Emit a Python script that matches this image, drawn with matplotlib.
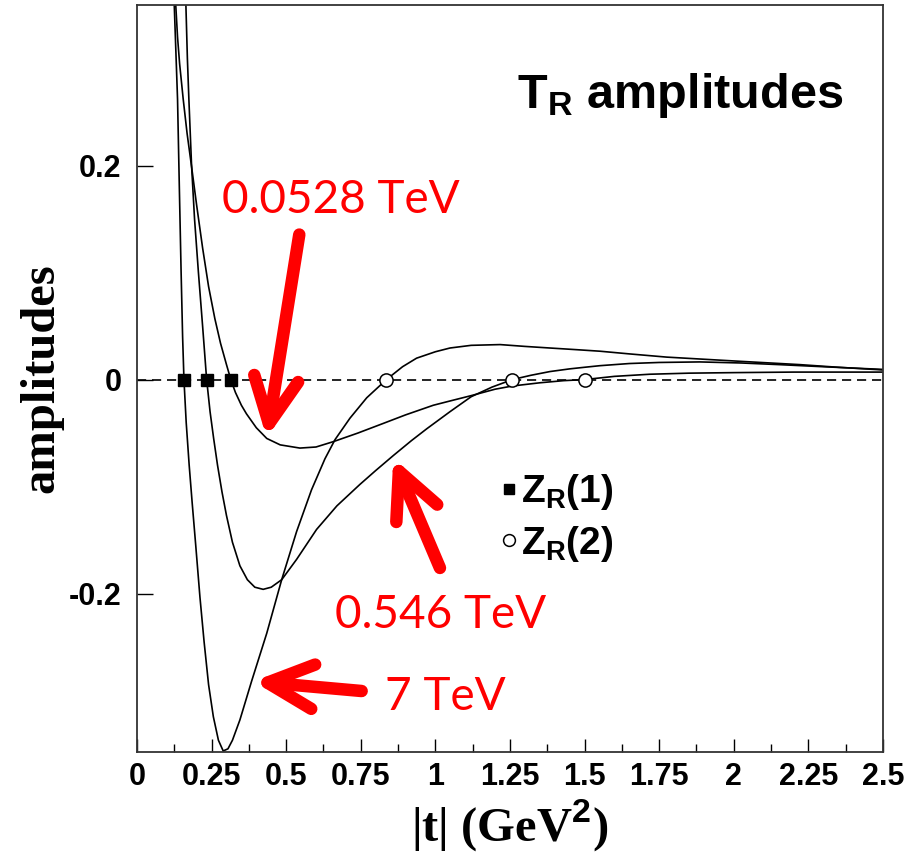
import matplotlib.pyplot as plt
from matplotlib.lines import Line2D

# curves: |t| (GeV^2) vs T_R amplitude
t_7tev = [0.125, 0.130, 0.136, 0.142, 0.148, 0.153, 0.1575, 0.165, 0.175, 0.185,
          0.197, 0.211, 0.225, 0.240, 0.256, 0.273, 0.289, 0.305, 0.320, 0.345,
          0.384, 0.435, 0.485, 0.535, 0.585, 0.630, 0.664, 0.714, 0.770, 0.836,
          0.890, 0.937, 1.000, 1.049, 1.120, 1.217, 1.300, 1.384, 1.470, 1.552,
          1.650, 1.775, 1.900, 2.026, 2.220, 2.350, 2.500]
a_7tev = [0.350, 0.310, 0.262, 0.180, 0.100, 0.040, 0.000, -0.040, -0.080, -0.115,
          -0.155, -0.203, -0.245, -0.285, -0.315, -0.337, -0.347, -0.345, -0.337, -0.318,
          -0.282, -0.237, -0.187, -0.142, -0.103, -0.074, -0.056, -0.036, -0.017, 0.000,
          0.012, 0.020, 0.026, 0.0295, 0.032, 0.0327, 0.031, 0.0295, 0.028, 0.0265,
          0.024, 0.021, 0.019, 0.017, 0.014, 0.0115, 0.009]

t_546 = [0.164, 0.169, 0.174, 0.183, 0.193, 0.206, 0.220, 0.2335, 0.245, 0.257,
         0.270, 0.285, 0.300, 0.320, 0.345, 0.370, 0.395, 0.423, 0.450, 0.485,
         0.535, 0.602, 0.670, 0.747, 0.800, 0.859, 0.920, 0.971, 1.049, 1.120,
         1.190, 1.258, 1.320, 1.384, 1.450, 1.500, 1.552, 1.650, 1.750, 1.886,
         2.026, 2.150, 2.300, 2.500]
a_546 = [0.350, 0.300, 0.262, 0.200, 0.150, 0.100, 0.050, 0.000, -0.030, -0.055,
         -0.080, -0.105, -0.127, -0.152, -0.174, -0.187, -0.194, -0.196, -0.194, -0.187,
         -0.168, -0.140, -0.118, -0.098, -0.085, -0.071, -0.057, -0.046, -0.030, -0.016,
         -0.007, 0.000, 0.004, 0.0075, 0.010, 0.0115, 0.013, 0.015, 0.016, 0.0165,
         0.0155, 0.014, 0.012, 0.0095]

t_0528 = [0.130, 0.136, 0.143, 0.155, 0.168, 0.183, 0.200, 0.220, 0.240, 0.261,
          0.280, 0.300, 0.3145, 0.330, 0.350, 0.367, 0.400, 0.435, 0.480, 0.546,
          0.600, 0.658, 0.740, 0.825, 0.900, 0.993, 1.049, 1.120, 1.200, 1.258,
          1.350, 1.430, 1.500, 1.600, 1.719, 1.850, 2.000, 2.200, 2.500]
a_0528 = [0.350, 0.320, 0.295, 0.262, 0.230, 0.199, 0.163, 0.123, 0.087, 0.057,
          0.034, 0.014, 0.000, -0.012, -0.024, -0.032, -0.045, -0.055, -0.061, -0.064,
          -0.063, -0.058, -0.050, -0.041, -0.033, -0.024, -0.020, -0.015, -0.009, -0.006,
          -0.003, -0.001, 0.000, 0.003, 0.005, 0.006, 0.0065, 0.007, 0.007]

# zeros of the amplitudes
z1_t = [0.1575, 0.2335, 0.3145]
z2_t = [0.836, 1.258, 1.500]

xticks = [0, 0.25, 0.5, 0.75, 1, 1.25, 1.5, 1.75, 2, 2.25, 2.5]
xtick_labels = ["0", "0.25", "0.5", "0.75", "1", "1.25", "1.5", "1.75", "2", "2.25", "2.5"]
yticks = [-0.2, 0, 0.2]
ytick_labels = ["-0.2", "0", "0.2"]

plt.rcParams['mathtext.fontset'] = 'custom'
plt.rcParams['mathtext.rm'] = 'Liberation Sans:bold'
plt.rcParams['mathtext.bf'] = 'Liberation Sans:bold'
plt.rcParams['mathtext.it'] = 'Liberation Sans:bold'

fig = plt.figure(figsize=(9.1, 8.63), dpi=100)
ax = fig.add_axes([0.1505, 0.1286, 0.8198, 0.8656])

ax.axhline(0, color='black', lw=1.2, ls=(0, (5.5, 3.5)), zorder=1)
ax.plot(t_7tev, a_7tev, color='black', lw=1.2)
ax.plot(t_546, a_546, color='black', lw=1.2)
ax.plot(t_0528, a_0528, color='black', lw=1.2)
ax.plot(z1_t, [0] * len(z1_t), ls='none', marker='s', ms=9, color='black')
ax.plot(z2_t, [0] * len(z2_t), ls='none', marker='o', ms=9.5, mfc='white',
        mec='black', mew=1.1)

ax.set_xlim(0, 2.5)
ax.set_ylim(-0.348, 0.350)
ax.set_xticks(xticks)
ax.set_xticklabels(xtick_labels)
ax.set_xticks([x + 0.125 for x in xticks[:-1]], minor=True)
ax.set_yticks(yticks)
ax.set_yticklabels(ytick_labels)
ax.tick_params(axis='x', which='major', direction='in', length=9.5, width=1, pad=7)
ax.tick_params(axis='x', which='minor', direction='in', length=5.5, width=1)
ax.tick_params(axis='y', which='major', direction='in', length=11.5, width=1, pad=11)
for lab in ax.get_xticklabels() + ax.get_yticklabels():
    lab.set_fontfamily(['Liberation Sans Narrow', 'Liberation Sans'])
    lab.set_fontweight('bold')
    lab.set_fontsize(22)
for sp in ax.spines.values():
    sp.set_linewidth(1.3)
    sp.set_color('#333333')

ax.set_xlabel(r"|t| (GeV$^{\mathbf{2}}$)", fontsize=35, fontweight='bold',
              family='Liberation Serif', labelpad=4)
ax.set_ylabel("amplitudes", fontsize=35, fontweight='bold',
              family='Liberation Serif', labelpad=4)

ax.text(0.51, 0.862, r"$\mathbf{T_R}$ amplitudes", transform=ax.transAxes,
        fontsize=35, fontweight='bold', family='Liberation Sans')

handles = [Line2D([], [], ls='none', marker='s', ms=7.5, color='black'),
           Line2D([], [], ls='none', marker='o', ms=8.5, mfc='white', mec='black', mew=1.1)]
ax.legend(handles, [r"$\mathbf{Z_R}$(1)", r"$\mathbf{Z_R}$(2)"], loc='center left',
          bbox_to_anchor=(0.4886, 0.313), frameon=False, handlelength=0.4,
          handletextpad=0.1, labelspacing=0.3, borderpad=0, borderaxespad=0,
          prop={'family': 'Liberation Sans', 'weight': 'bold', 'size': 28})

# red call-outs
red = '#ff0000'
arrow = dict(arrowstyle='->, head_length=33, head_width=16', color=red, lw=9,
             shrinkA=0, shrinkB=0, mutation_scale=1, capstyle='round', joinstyle='round')
ax.annotate("", xy=(0.4347, -0.0545), xytext=(0.544, 0.1355), arrowprops=arrow)
ax.annotate("", xy=(0.859, -0.0732), xytext=(1.0154, -0.176), arrowprops=arrow)
ax.annotate("", xy=(0.3898, -0.282), xytext=(0.753, -0.291), arrowprops=arrow)
tfont = dict(color=red, fontsize=33, family='Lato', va='baseline', ha='left')
ax.text(0.285, 0.1558, "0.0528 TeV", **tfont)
ax.text(0.6635, -0.232, "0.546 TeV", **tfont)
ax.text(0.831, -0.3084, "7 TeV", **tfont)

fig.savefig("out.png", dpi=100)
